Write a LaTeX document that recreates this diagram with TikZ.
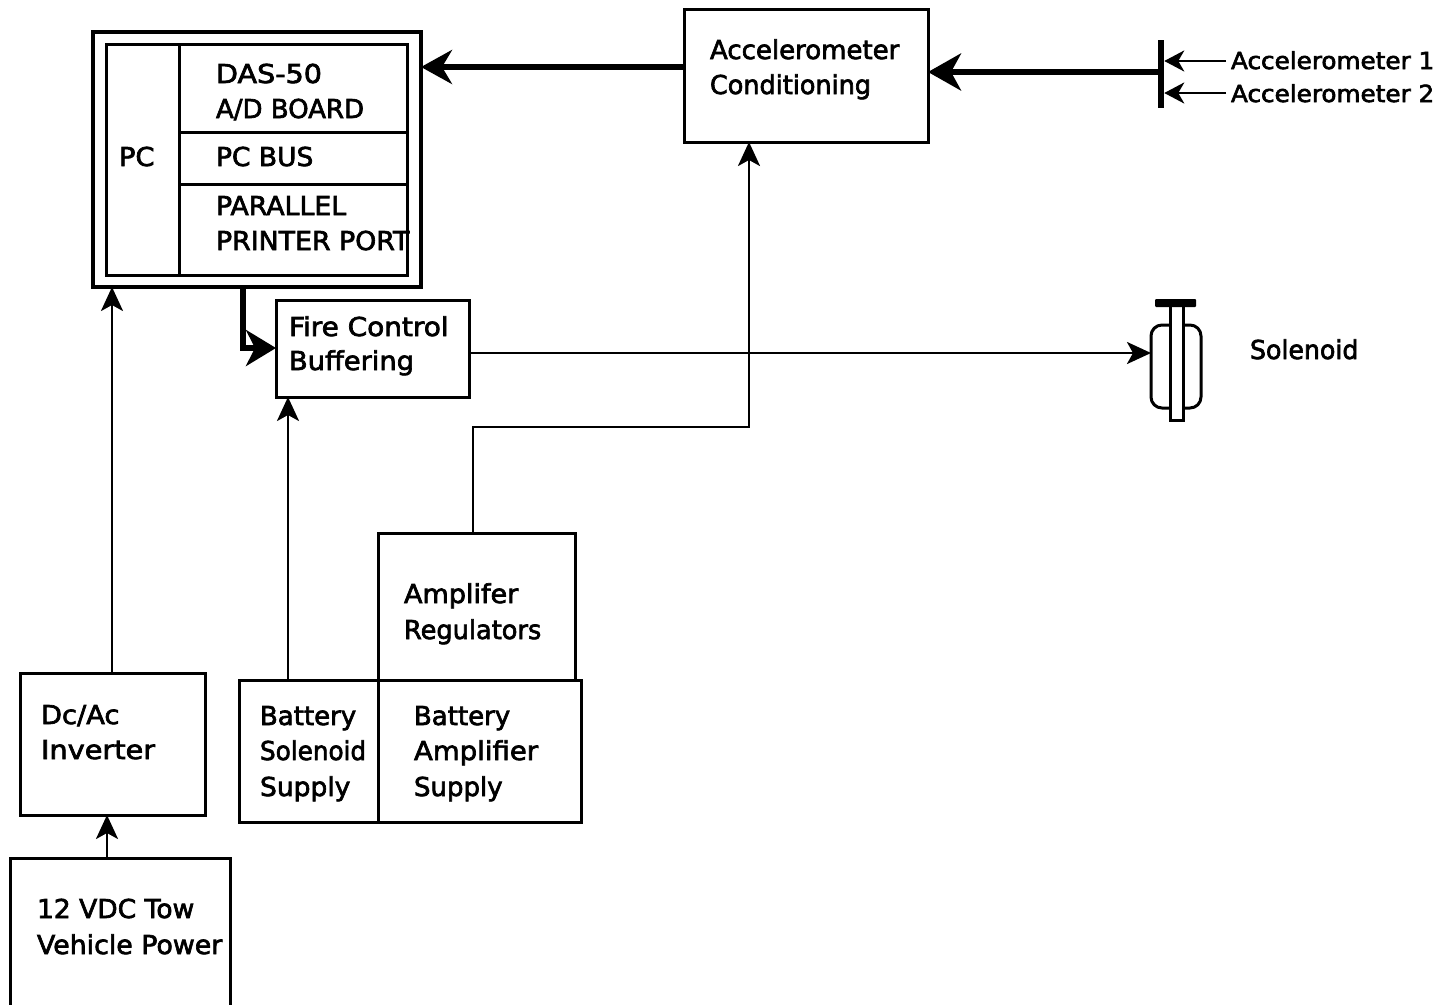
\documentclass[tikz,border=0pt]{standalone}
\usepackage{fontspec}
\usepackage{graphicx}
\setmainfont[RawFeature={embolden=2.5}]{DejaVu Sans}
\usetikzlibrary{arrows.meta}
\newcommand{\sx}[2]{\scalebox{#1}[1]{#2}}
\tikzset{
  x=1pt,y=-1pt,
  boxn/.style={draw=black,line width=3pt,fill=none,inner sep=0pt,outer sep=0pt,anchor=north west},
  lab/.style={anchor=base west,inner sep=0pt,outer sep=0pt,text=black,font=\fontsize{26}{30}\selectfont},
  labs/.style={lab,font=\fontsize{23.5}{28}\selectfont},
  thin conn/.style={line width=2.8pt,-{Stealth[length=24pt,width=22pt,inset=6pt]}},
  thick conn/.style={line width=6pt,-{Stealth[length=33pt,width=37pt,inset=10pt]}},
  small conn/.style={line width=2.6pt,-{Stealth[length=20pt,width=21pt,inset=6pt]}},
}
\begin{document}
\begin{tikzpicture}
\useasboundingbox (0,0) rectangle (1443,1004);
% boxes
\node[boxn,line width=3.4pt,minimum width=328pt,minimum height=255pt] (pcouter) at (93,32) {};
\node[boxn,minimum width=73pt,minimum height=231pt] (pcleft) at (106,44) {};
\node[boxn,minimum width=228pt,minimum height=88pt] (das) at (179,44) {};
\node[boxn,minimum width=228pt,minimum height=52pt] (bus) at (179,132) {};
\node[boxn,minimum width=228pt,minimum height=91pt] (port) at (179,184) {};
\node[boxn,minimum width=244pt,minimum height=133pt] (cond) at (684,9) {};
\node[boxn,minimum width=193pt,minimum height=97pt] (fire) at (276,300) {};
\node[boxn,minimum width=197pt,minimum height=147pt] (reg) at (378,533) {};
\node[boxn,minimum width=139pt,minimum height=142pt] (bsol) at (239,680) {};
\node[boxn,minimum width=203pt,minimum height=142pt] (bamp) at (378,680) {};
\node[boxn,minimum width=185pt,minimum height=142pt] (inv) at (20,673) {};
\node[boxn,minimum width=220pt,minimum height=150pt] (tow) at (10,858) {};
% accelerometer bus bar
\node[fill=black,inner sep=0pt,outer sep=0pt,minimum width=6.5pt,minimum height=68pt,anchor=north] (bar) at (1161,40) {};
\coordinate (a1end) at (1226,61);
\coordinate (a2end) at (1226,93);
% solenoid
\node[draw=black,line width=3pt,rounded corners=11pt,fill=white,minimum width=50pt,minimum height=83pt,inner sep=0pt,outer sep=0pt,anchor=north west] (sol) at (1151,325) {};
\node[draw=black,line width=3pt,fill=white,minimum width=13pt,minimum height=115pt,inner sep=0pt,outer sep=0pt,anchor=north west] (stem) at (1170,305) {};
\node[fill=black,rounded corners=1pt,minimum width=41pt,minimum height=8pt,inner sep=0pt,outer sep=0pt,anchor=north west] (cap) at (1155,299) {};
% connectors
\draw[line width=6pt,-{Stealth[length=31pt,width=34pt,inset=10pt]}] (cond.west |- 0,67) -- (pcouter.east |- 0,67);
\draw[thick conn] (bar.west |- 0,72) -- (cond.east |- 0,72);
\draw[small conn] (a1end) -- (bar.east |- a1end);
\draw[small conn] (a2end) -- (bar.east |- a2end);
\draw[thin conn] (reg.north) ++(-3.5,0) |- (749,427) -- (749,142);
\draw[thin conn] (fire.east |- 0,353) -- (sol.west |- 0,353);
\draw[line width=6.5pt,-{Stealth[length=30pt,width=36pt,inset=9pt]}] (pcouter.south -| 243,0) -- (243,348) -- (fire.west |- 0,348);
\draw[thin conn] (inv.north -| 112,0) -- (pcouter.south -| 112,0);
\draw[thin conn] (bsol.north -| 288,0) -- (fire.south -| 288,0);
\draw[thin conn] (tow.north -| 107,0) -- (inv.south -| 107,0);
% labels
\node[lab] (t1) at (119,166) {\sx{1.05}{PC}};
\node[lab] (t2) at (216,83) {\sx{1.1}{DAS-50}};
\node[lab] (t3) at (216,118) {A/D BOARD};
\node[lab] (t4) at (216,166) {\sx{1.02}{PC BUS}};
\node[lab] (t5) at (216,215) {\sx{1.03}{PARALLEL}};
\node[lab] (t6) at (216,250) {\sx{1.03}{PRINTER PORT}};
\node[lab] (t7) at (710,59) {Accelerometer};
\node[lab] (t8) at (710,94) {\sx{.98}{Conditioning}};
\node[labs] (t9) at (1231,69) {\sx{1.05}{Accelerometer 1}};
\node[labs] (t10) at (1231,102) {\sx{1.05}{Accelerometer 2}};
\node[lab] (t11) at (289,336) {\sx{1.074}{Fire Control}};
\node[lab] (t12) at (289,370) {\sx{1.05}{Buffering}};
\node[lab] (t13) at (1250,359) {\sx{.97}{Solenoid}};
\node[lab] (t14) at (404,603) {\sx{1.04}{Amplifer}};
\node[lab] (t15) at (404,639) {\sx{.985}{Regulators}};
\node[lab] (t16) at (41,724) {\sx{1.05}{Dc/Ac}};
\node[lab] (t17) at (41,759) {\sx{1.107}{Inverter}};
\node[lab] (t18) at (260,725) {Battery};
\node[lab] (t19) at (260,760) {\sx{.95}{Solenoid}};
\node[lab] (t20) at (260,796) {\sx{1.02}{Supply}};
\node[lab] (t21) at (414,725) {Battery};
\node[lab] (t22) at (414,760) {\sx{1.06}{Amplifier}};
\node[lab] (t23) at (414,796) {Supply};
\node[lab] (t24) at (37,918) {\sx{1.02}{12 VDC Tow}};
\node[lab] (t25) at (37,954) {\sx{1.03}{Vehicle Power}};
\end{tikzpicture}
\end{document}
